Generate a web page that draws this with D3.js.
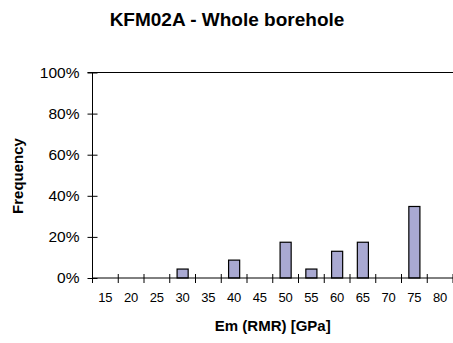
<!DOCTYPE html>
<html>
<head>
<meta charset="utf-8">
<script src="https://cdn.jsdelivr.net/npm/d3@7/dist/d3.min.js"></script>
<style>
  body { margin: 0; background: #fff; }
  svg { display: block; font-family: Arial, "Liberation Sans", sans-serif; }
</style>
</head>
<body>
<div id="chart"></div>
<script>
// data (share of 23 sections)
const categories = ['15', '20', '25', '30', '35', '40', '45', '50', '55', '60', '65', '70', '75', '80'];
const frequency = [0, 0, 0, 0.0435, 0, 0.087, 0, 0.174, 0.0435, 0.13, 0.174, 0, 0.348, 0];
const yTicks = [0, 0.2, 0.4, 0.6, 0.8, 1];

const width = 453, height = 343;
const margin = {top: 72.5, right: 0, bottom: 65, left: 92.5};
const plotW = width - margin.left - margin.right;
const plotH = height - margin.top - margin.bottom;

const svg = d3.select('#chart').append('svg')
    .attr('width', width)
    .attr('height', height);

const g = svg.append('g')
    .attr('transform', 'translate(' + margin.left + ',' + margin.top + ')');

const x = d3.scaleBand()
    .domain(categories)
    .range([0, plotW])
    .padding(0);

const y = d3.scaleLinear()
    .domain([0, 1])
    .range([plotH, 0]);

// top border of the plot area
g.append('line')
    .attr('x1', -5).attr('x2', plotW)
    .attr('y1', 0).attr('y2', 0)
    .attr('stroke', '#000');

// bars
const barW = x.bandwidth() * 0.43;
g.selectAll('rect.bar')
    .data(categories.map((c, i) => ({cat: c, v: frequency[i]})).filter(d => d.v > 0))
    .enter().append('rect')
    .attr('class', 'bar')
    .attr('x', d => x(d.cat) + (x.bandwidth() - barW) / 2)
    .attr('y', d => y(d.v))
    .attr('width', barW)
    .attr('height', d => plotH - y(d.v))
    .attr('fill', '#a9a9d2')
    .attr('stroke', '#000')
    .attr('stroke-width', 1.2);

// y axis
const yAxis = g.append('g')
    .call(d3.axisLeft(y).tickValues(yTicks).tickFormat(d3.format('.0%')).tickSize(5).tickPadding(8));
yAxis.select('.domain').attr('stroke', '#000').attr('d', 'M0,0V' + plotH);
yAxis.selectAll('.tick line').attr('x1', 5);
yAxis.selectAll('.tick text')
    .attr('font-size', 15.5)
    .attr('fill', '#000');

// x axis: labels centred in categories, ticks on the boundaries
const xAxis = g.append('g')
    .attr('transform', 'translate(0,' + plotH + ')')
    .call(d3.axisBottom(x).tickSize(0).tickPadding(15));
xAxis.select('.domain').attr('stroke', '#000').attr('d', 'M0,0H' + plotW);
xAxis.selectAll('.tick text')
    .attr('font-size', 13)
    .attr('fill', '#000');

const bounds = categories.map(c => x(c)).concat([plotW]);
xAxis.selectAll('line.sep')
    .data(bounds)
    .enter().append('line')
    .attr('class', 'sep')
    .attr('x1', d => d).attr('x2', d => d)
    .attr('y1', -4).attr('y2', 5)
    .attr('stroke', '#000');

// titles
svg.append('text')
    .attr('x', 227)
    .attr('y', 26)
    .attr('text-anchor', 'middle')
    .attr('font-size', 19)
    .attr('font-weight', 'bold')
    .text('KFM02A - Whole borehole');

svg.append('text')
    .attr('x', margin.left + plotW / 2)
    .attr('y', 331)
    .attr('text-anchor', 'middle')
    .attr('font-size', 15)
    .attr('font-weight', 'bold')
    .text('Em (RMR) [GPa]');

svg.append('text')
    .attr('transform', 'translate(23,176) rotate(-90)')
    .attr('text-anchor', 'middle')
    .attr('font-size', 15)
    .attr('font-weight', 'bold')
    .text('Frequency');
</script>
</body>
</html>
